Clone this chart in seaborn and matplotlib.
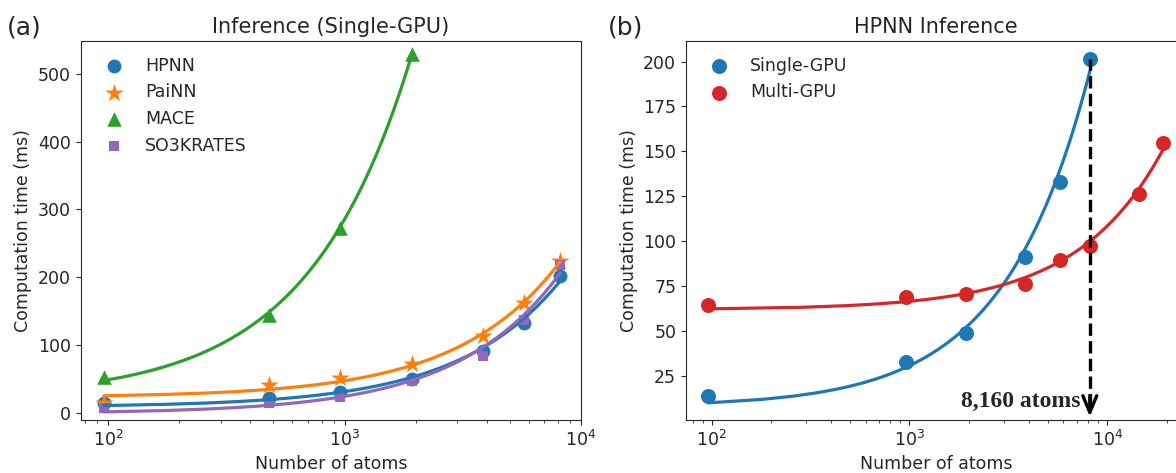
import seaborn as sns
import matplotlib.pyplot as plt

# --- Data ---
# (a) single-GPU inference time for each model
atoms_a = [96, 480, 960, 1920, 3840, 5760, 8160]
hpnn_ms = [13.7, 21.2, 31.0, 49.3, 91.6, 133.0, 201.5]
painn_ms = [14.8, 40.9, 50.7, 71.9, 113.8, 161.6, 224.6]
so3krates_ms = [7.4, 13.8, 23.6, 46.8, 82.8, 137.0, 218.0]
mace_atoms = [96, 480, 960, 1920]
mace_ms = [52.0, 144.3, 272.4, 530.0]

# (b) HPNN inference, single vs multi GPU
single_atoms = [96, 960, 1920, 3840, 5760, 8160]
single_ms = [13.7, 32.4, 49.0, 91.3, 133.1, 201.5]
multi_atoms = [96, 960, 1920, 3840, 5760, 8160, 14400, 19200]
multi_ms = [64.4, 69.0, 70.3, 76.1, 89.5, 97.3, 126.1, 154.9]
max_single_atoms = 8160

sns.set_style("ticks")
plt.rcParams.update({
    "font.size": 12.5,
    "axes.titlesize": 15,
    "axes.labelsize": 12.5,
    "xtick.labelsize": 12.5,
    "ytick.labelsize": 12.5,
    "legend.fontsize": 12.5,
})

fig = plt.figure(figsize=(11.76, 4.73), dpi=100)
ax1 = fig.add_axes([0.0686, 0.1121, 0.4255, 0.8013])
ax2 = fig.add_axes([0.5833, 0.1121, 0.4249, 0.8013])
for ax in (ax1, ax2):
    ax.set_xscale("log")

# --- (a) ---
series_a = [
    ("HPNN", atoms_a, hpnn_ms, "o", 100, "tab:blue"),
    ("PaiNN", atoms_a, painn_ms, "*", 190, "tab:orange"),
    ("MACE", mace_atoms, mace_ms, "^", 110, "tab:green"),
    ("SO3KRATES", atoms_a, so3krates_ms, "s", 55, "tab:purple"),
]
# linear fits look curved on the log x axis
for name, x, y, m, s, c in series_a:
    sns.scatterplot(x=x, y=y, marker=m, s=s, color=c, linewidth=0, label=name, ax=ax1)
    sns.regplot(x=x, y=y, ci=None, scatter=False, color=c,
                line_kws={"lw": 2.3}, ax=ax1)

ax1.set_xlim(76.6, 1e4)
ax1.set_ylim(-11, 549)
ax1.set_title("Inference (Single-GPU)")
ax1.set_xlabel("Number of atoms")
ax1.set_ylabel("Computation time (ms)")
ax1.legend(loc="upper left", frameon=False)

# --- (b) ---
series_b = [
    ("Single-GPU", single_atoms, single_ms, "tab:blue"),
    ("Multi-GPU", multi_atoms, multi_ms, "tab:red"),
]
for name, x, y, c in series_b:
    sns.scatterplot(x=x, y=y, marker="o", s=117, color=c, linewidth=0, label=name, ax=ax2)
    sns.regplot(x=x, y=y, ci=None, scatter=False, color=c,
                line_kws={"lw": 2.3}, ax=ax2)

ax2.vlines(max_single_atoms, 8, single_ms[-1], colors="k", linestyles="--", lw=2.4, zorder=4)
ax2.annotate("", xy=(max_single_atoms, 2.1), xytext=(max_single_atoms, 14),
             arrowprops=dict(arrowstyle="->,head_length=0.6,head_width=0.25",
                             lw=2.4, color="k", mutation_scale=20,
                             shrinkA=0, shrinkB=0), zorder=4)
ax2.annotate(f"{max_single_atoms:,} atoms", xy=(max_single_atoms, 7.6),
             xytext=(-7, 0), textcoords="offset points", ha="right", va="baseline",
             fontsize=17, fontweight="bold", family="Liberation Serif")

ax2.set_xlim(74.1, 24900)
ax2.set_ylim(0.3, 211.5)
ax2.set_title("HPNN Inference")
ax2.set_xlabel("Number of atoms")
ax2.set_ylabel("Computation time (ms)")
ax2.legend(loc="upper left", frameon=False)

fig.text(7 / 1176, 1 - 40 / 473, "(a)", fontsize=18, ha="left", va="bottom")
fig.text(608 / 1176, 1 - 40 / 473, "(b)", fontsize=18, ha="left", va="bottom")

fig.savefig("out.png", dpi=100)
